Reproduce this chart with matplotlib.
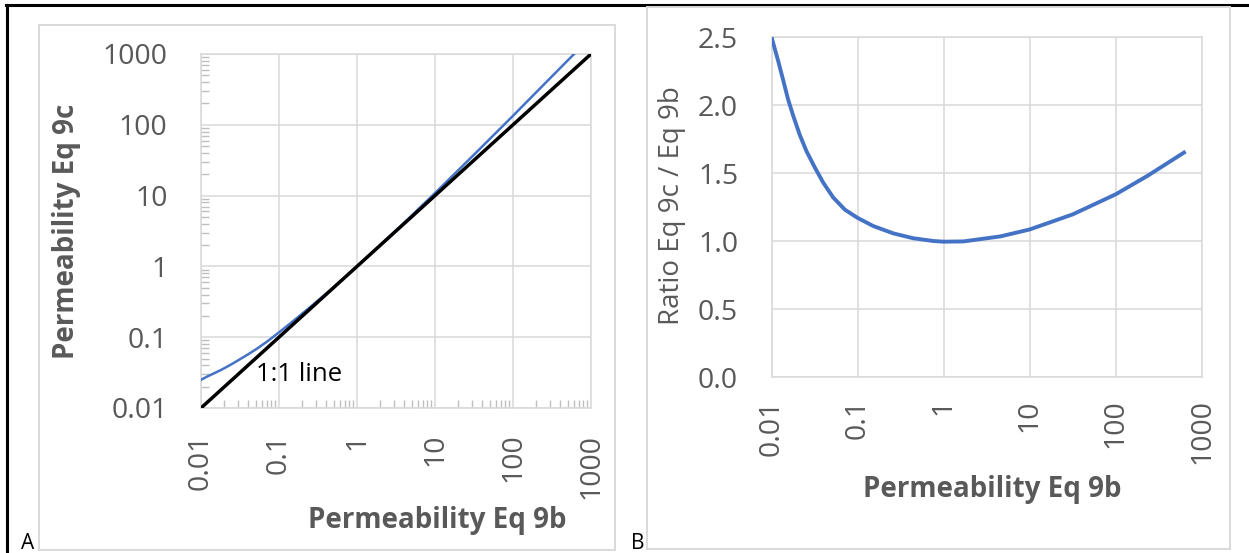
import matplotlib
matplotlib.use("Agg")
import matplotlib.pyplot as plt
from matplotlib.patches import Rectangle
from matplotlib.lines import Line2D
from matplotlib.ticker import LogLocator, NullFormatter

plt.rcParams['font.family'] = ['Open Sans', 'DejaVu Sans']

# ---- data ----
perm_9b = [0.01, 0.012, 0.0137, 0.0156, 0.0179, 0.0213, 0.0255, 0.0319, 0.0398, 0.0521,
           0.0713, 0.1, 0.152, 0.26, 0.444, 0.759, 1.0, 1.7, 4.57, 10, 31.6, 100, 234, 617]
perm_9c = [0.025, 0.0278, 0.0298, 0.0319, 0.0343, 0.038, 0.0424, 0.0492, 0.0569, 0.0688,
           0.0877, 0.117, 0.169, 0.275, 0.453, 0.759, 0.995, 1.695, 4.73, 10.85, 37.8, 134, 346, 1018]
ratio_9c_9b = [2.5, 2.32, 2.18, 2.04, 1.92, 1.78, 1.66, 1.54, 1.43, 1.32,
               1.23, 1.17, 1.11, 1.056, 1.02, 1.0, 0.995, 0.997, 1.034, 1.085, 1.196, 1.344, 1.48, 1.65]
one_to_one = [0.01, 1000]

log_ticks = [0.01, 0.1, 1, 10, 100, 1000]
log_labels = ['0.01', '0.1', '1', '10', '100', '1000']
ratio_ticks = [0.0, 0.5, 1.0, 1.5, 2.0, 2.5]
ratio_labels = ['0.0', '0.5', '1.0', '1.5', '2.0', '2.5']

W, H = 1249, 553
GRID = '#d9d9d9'
TXT = '#595959'
BLUE = '#4472c4'

fig = plt.figure(figsize=(W / 100, H / 100), dpi=100)


def px_rect(x0, y0, x1, y1):
    # pixel box (top-left origin) -> figure fraction
    return [x0 / W, 1 - y1 / H, (x1 - x0) / W, (y1 - y0) / H]


# table borders and chart-area frames
fig.add_artist(Line2D([7 / W, 7 / W], [0, 1 - 5 / H], color='black', lw=2.2,
                      transform=fig.transFigure, zorder=-3))
fig.add_artist(Line2D([6 / W, 1], [1 - 5 / H, 1 - 5 / H], color='black', lw=2.2,
                      transform=fig.transFigure, zorder=-3))
for box in ([39, 25, 615, 550], [647, 7, 1230, 549]):
    r = px_rect(*box)
    fig.add_artist(Rectangle((r[0], r[1]), r[2], r[3], transform=fig.transFigure,
                             facecolor='white', edgecolor=GRID, lw=1.4, zorder=-2))


def style(ax):
    ax.set_facecolor('white')
    for s in ax.spines.values():
        s.set_color(GRID)
        s.set_linewidth(1.1)
    ax.grid(True, which='major', color=GRID, lw=1.1)
    ax.set_axisbelow(True)


# ---- panel A ----
axA = fig.add_axes(px_rect(201, 54, 591, 408))
style(axA)
axA.set_xscale('log')
axA.set_yscale('log')
axA.plot(perm_9b, perm_9c, color=BLUE, lw=1.8, zorder=3)
axA.plot(one_to_one, one_to_one, color='black', lw=2.5, zorder=4)
axA.set_xlim(0.01, 1000)
axA.set_ylim(0.01, 1000)
axA.set_xticks(log_ticks, log_labels)
axA.set_yticks(log_ticks, log_labels)
for axis in (axA.xaxis, axA.yaxis):
    axis.set_minor_locator(LogLocator(base=10, subs=range(2, 10), numticks=20))
    axis.set_minor_formatter(NullFormatter())
axA.tick_params(which='major', length=0, labelsize=20.5, labelcolor=TXT)
axA.tick_params(axis='x', which='major', pad=18.5, labelrotation=90)
axA.tick_params(axis='y', which='major', pad=24)
axA.tick_params(which='minor', direction='in', length=6, width=1, color='#bfbfbf')
axA.text(0.051, 0.03, '1:1 line', fontsize=18.5, color='black', va='center', ha='left', zorder=5)
axA.set_xlabel('Permeability Eq 9b', fontsize=20, fontweight='bold', color=TXT, va='center')
axA.xaxis.set_label_coords(0.605, -0.319)
axA.set_ylabel('Permeability Eq 9c', fontsize=20, fontweight='bold', color=TXT, va='center')
axA.yaxis.set_label_coords(-0.344, 0.5)

# ---- panel B ----
axB = fig.add_axes(px_rect(771.5, 37, 1202, 377))
style(axB)
axB.set_xscale('log')
axB.plot(perm_9b, ratio_9c_9b, color=BLUE, lw=2.8, zorder=3)
axB.set_xlim(0.01, 1000)
axB.set_ylim(0, 2.5)
axB.set_xticks(log_ticks, log_labels)
axB.set_yticks(ratio_ticks, ratio_labels)
axB.xaxis.set_minor_locator(plt.NullLocator())
axB.tick_params(which='major', length=0, labelsize=20.5, labelcolor=TXT)
axB.tick_params(axis='x', pad=16, labelrotation=90)
axB.tick_params(axis='y', pad=24)
axB.set_xlabel('Permeability Eq 9b', fontsize=20, fontweight='bold', color=TXT, va='center')
axB.xaxis.set_label_coords(0.512, -0.332)
axB.set_ylabel('Ratio Eq 9c / Eq 9b', fontsize=20, color=TXT, va='center')
axB.yaxis.set_label_coords(-0.231, 0.504)

fig.text(21 / W, 4 / H, 'A', fontsize=15, color='black', va='baseline')
fig.text(631 / W, 4 / H, 'B', fontsize=15, color='black', va='baseline')

fig.savefig('out.png', dpi=100)
